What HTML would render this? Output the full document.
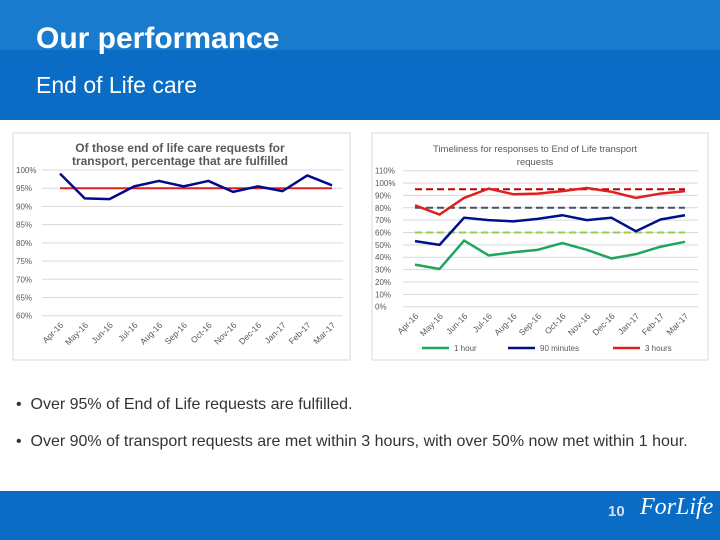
<!DOCTYPE html>
<html><head><meta charset="utf-8"><style>
body{margin:0;width:720px;height:540px;position:relative;overflow:hidden;background:#fff;font-family:"Liberation Sans",Arial,sans-serif}
#hdr{position:absolute;left:0;top:0;width:720px;height:120px;background:#0a6cc4}
#hdrtop{position:absolute;left:0;top:0;width:720px;height:50px;background:#1a7acc}
#title{position:absolute;left:36px;top:22px;color:#fff;font-size:30px;font-weight:bold}
#sub{position:absolute;left:36px;top:72px;color:#fff;font-size:23px}
#ftr{position:absolute;left:0;top:491px;width:720px;height:49px;background:#0a6cc4}
.b{position:absolute;left:16px;font-size:16px;color:#333}
</style></head><body>
<div id="hdr"><div id="hdrtop"></div>
<div id="title">Our performance</div>
<div id="sub">End of Life care</div></div>
<svg id="c1" style="position:absolute;left:0;top:0" width="720" height="540"></svg>
<div class="b" style="top:396px">•&nbsp; Over 95% of End of Life requests are fulfilled.</div>
<div class="b" style="top:433px">•&nbsp; Over 90% of transport requests are met within 3 hours, with over 50% now met within 1 hour.</div>
<div id="ftr">
<div style="position:absolute;left:608px;top:12px;color:#dde;font-size:15px;font-weight:bold">10</div>
<div style="position:absolute;left:640px;top:3px;color:#fff;font-size:24px;font-style:italic;font-family:'Liberation Serif',serif">ForLife</div></div>
<script>
const months=["Apr-16","May-16","Jun-16","Jul-16","Aug-16","Sep-16","Oct-16","Nov-16","Dec-16","Jan-17","Feb-17","Mar-17"];
const fulfilled=[99,92.2,92,95.5,97,95.5,97,94,95.5,94.2,98.5,95.8];
const fulfilledTarget=95;
const ticks1=[60,65,70,75,80,85,90,95,100];
const hour1=[34,30.5,53.5,41.5,44,46,51.5,46,39,42.5,48.5,52.5];
const min90=[53,50,72,70,69,71,74,70,72,61,70.5,74];
const hour3=[82,74.5,88,95.5,91,91.5,93.5,96,93,88,91.5,93.5];
const targets2=[95,80,60];
const ticks2=[0,10,20,30,40,50,60,70,80,90,100,110];
const NS="http://www.w3.org/2000/svg";
const svg=document.getElementById('c1');
function mk(t,a,txt){const e=document.createElementNS(NS,t);for(const k in a)e.setAttribute(k,a[k]);if(txt!=null)e.textContent=txt;svg.appendChild(e);return e;}
function chart(o){
 let b=mk('rect',{x:o.bx,y:133,width:o.bw,height:227,fill:'#fff',stroke:'#d9d9d9'});
 
 const X=i=>o.x0+i*(o.x1-o.x0)/(months.length-1);
 const Y=v=>o.y0+(v-o.vmin)/(o.vmax-o.vmin)*(o.y1-o.y0);
 o.ticks.forEach(t=>{
  let g=mk('line',{x1:o.gx0,x2:o.gx1,y1:Y(t),y2:Y(t),stroke:'#d9d9d9','stroke-width':1});
  
  let l=mk('text',{x:o.bx+3,y:Y(t)+3,'font-size':8,fill:'#595959'},t+'%');
  
 });
 months.forEach((m,i)=>{
  let l=mk('text',{x:X(i)+4,y:o.y0+10,'font-size':8.5,fill:'#595959','text-anchor':'end',transform:`rotate(-45 ${X(i)+4} ${o.y0+10})`},m);
  
 });
 o.title.forEach((t,k)=>{let e=mk('text',{x:o.tx,y:152+k*13,'font-size':o.tfs,fill:'#595959','text-anchor':'middle','font-weight':o.tw},t);
  });
 o.hl.forEach(h=>{let e=mk('line',{x1:X(0),x2:X(11),y1:Y(h.v),y2:Y(h.v),stroke:h.c,'stroke-width':h.w||2,'stroke-dasharray':h.d||'none'});
  });
 o.series.forEach(s=>{let e=mk('polyline',{points:s.d.map((v,i)=>X(i)+','+Y(v)).join(' '),fill:'none',stroke:s.c,'stroke-width':2.5,'stroke-linejoin':'round'});
  });
 return {X,Y};
}
chart({name:'fulfilled-chart',bx:13,bw:337,x0:60,x1:332,gx0:42,gx1:343,y0:315.7,y1:170,vmin:60,vmax:100,ticks:ticks1,
 title:['Of those end of life care requests for','transport, percentage that are fulfilled'],tx:180,tfs:12,tw:'bold',
 hl:[{v:fulfilledTarget,c:'#e02020',n:'target-line-95'}],series:[{d:fulfilled,c:'#000a8c',n:'fulfilled-line'}]});
chart({name:'timeliness-chart',bx:372,bw:336,x0:415,x1:685,gx0:403,gx1:698,y0:306.7,y1:170.7,vmin:0,vmax:110,ticks:ticks2,
 title:['Timeliness for responses to End of Life transport','requests'],tx:535,tfs:9.5,tw:'normal',
 hl:[{v:targets2[0],c:'#c00000',d:'7 4',n:'target-3-hours'},{v:targets2[1],c:'#44546a',d:'7 4',n:'target-90-minutes'},{v:targets2[2],c:'#92d050',d:'7 4',n:'target-1-hour'}],
 series:[{d:hour1,c:'#1fa65a',n:'series-1-hour'},{d:min90,c:'#00108c',n:'series-90-minutes'},{d:hour3,c:'#e02020',n:'series-3-hours'}]});
[['1 hour','#1fa65a',422],['90 minutes','#00108c',508],['3 hours','#e02020',613]].forEach(l=>{
 let e=mk('line',{x1:l[2],x2:l[2]+27,y1:348,y2:348,stroke:l[1],'stroke-width':2.5});
 
 let t=mk('text',{x:l[2]+32,y:351,'font-size':8,fill:'#595959'},l[0]);
 
});
</script>
</body></html>
